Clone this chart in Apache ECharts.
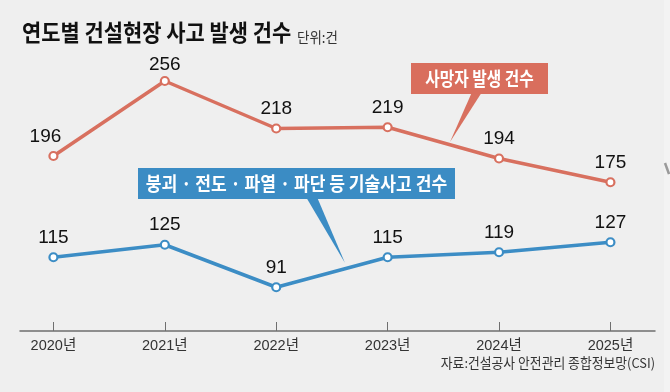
<!DOCTYPE html>
<html>
<head>
<meta charset="utf-8">
<script src="https://cdn.jsdelivr.net/npm/echarts@6/dist/echarts.min.js"></script>
<style>
html,body{margin:0;padding:0;background:#efefef;}
#c{width:670px;height:392px;}
</style>
</head>
<body>
<div id="c"></div>
<script>
const years = ['2020년','2021년','2022년','2023년','2024년','2025년'];
const deaths = [196, 256, 218, 219, 194, 175];
const techAccidents = [115, 125, 91, 115, 119, 127];
const titleText = '연도별 건설현장 사고 발생 건수';
const unitText = '단위:건';
const sourceText = '자료:건설공사 안전관리 종합정보망(CSI)';
const deathsName = '사망자 발생 건수';
const techName = '붕괴 · 전도 · 파열 · 파단 등 기술사고 건수';

const RED = '#d8705f';
const BLUE = '#3c8dc5';
const NUM_FONT = '"Liberation Sans Narrow","Liberation Sans",Arial,sans-serif';
const KR_FONT = '"Noto Sans CJK KR",sans-serif';

function toData(arr, overrides) {
  return arr.map((v, i) => {
    const item = { value: [i, v] };
    if (overrides && overrides[i]) item.label = overrides[i];
    return item;
  });
}

const chart = echarts.init(document.getElementById('c'));
const idx = years.map((_, i) => i);

const seriesBase = (color) => ({
  type: 'line',
  symbol: 'circle',
  symbolSize: 8,
  lineStyle: { width: 3.5, color: color },
  itemStyle: { color: '#ffffff', borderColor: color, borderWidth: 2.2 },
  label: {
    show: true, position: 'top', distance: 5,
    fontFamily: NUM_FONT, fontSize: 19, color: '#111'
  },
  z: 3,
  animation: false
});

chart.setOption({
  backgroundColor: '#efefef',
  animation: false,
  grid: { left: 20, right: 15, top: 81, bottom: 61 },
  xAxis: {
    type: 'value', min: -0.3, max: 5.4,
    splitLine: { show: false },
    axisLine: { show: true, onZero: false, lineStyle: { color: '#6f6f6f', width: 1.5 } },
    axisTick: { show: true, inside: true, length: 9, customValues: idx, lineStyle: { color: '#6f6f6f', width: 1 } },
    axisLabel: {
      customValues: idx,
      formatter: (v) => years[Math.round(v)] || '',
      fontFamily: NUM_FONT + ',' + KR_FONT, fontSize: 14.5, color: '#333', margin: 8
    }
  },
  yAxis: { type: 'value', min: 56, max: 256, show: false, splitLine: { show: false } },
  series: [
    Object.assign(seriesBase(RED), {
      name: deathsName,
      data: toData(deaths, { 0: { offset: [-8, 0] }, 1: { offset: [0, 3] } })
    }),
    Object.assign(seriesBase(BLUE), {
      name: techName,
      data: toData(techAccidents, null)
    })
  ],
  graphic: [
    { type: 'text', x: 22, y: 32, scaleX: 0.91, z: 10,
      style: { text: titleText, fontFamily: KR_FONT, fontWeight: 'bold', fontSize: 23, fill: '#111', textVerticalAlign: 'middle', textAlign: 'left' } },
    { type: 'text', x: 297, y: 37, scaleX: 0.9, z: 10,
      style: { text: unitText, fontFamily: KR_FONT, fontSize: 15, fill: '#333', textVerticalAlign: 'middle', textAlign: 'left' } },
    { type: 'text', x: 655, y: 363, scaleX: 0.95, z: 10,
      style: { text: sourceText, fontFamily: KR_FONT, fontSize: 13.5, fill: '#333', textVerticalAlign: 'middle', textAlign: 'right' } },
    // red callout
    { type: 'polygon', z: 5, shape: { points: [[472, 92], [482, 92], [450, 142]] }, style: { fill: RED } },
    { type: 'rect', z: 6, shape: { x: 411, y: 63, width: 137, height: 31 }, style: { fill: '#d96e5d' } },
    { type: 'text', x: 479.5, y: 78.5, scaleX: 0.83, z: 7,
      style: { text: deathsName, fontFamily: KR_FONT, fontWeight: 'bold', fontSize: 19, fill: '#fff', textAlign: 'center', textVerticalAlign: 'middle' } },
    // blue callout
    { type: 'polygon', z: 5, shape: { points: [[306, 197], [317, 197], [345, 263]] }, style: { fill: BLUE } },
    { type: 'rect', z: 6, shape: { x: 138, y: 168, width: 317, height: 31 }, style: { fill: '#3b8cc4' } },
    { type: 'text', x: 296.5, y: 183.5, scaleX: 0.9, z: 7,
      style: { text: techName, fontFamily: KR_FONT, fontWeight: 'bold', fontSize: 19, fill: '#fff', textAlign: 'center', textVerticalAlign: 'middle' } },
    // right edge artifact
    { type: 'rect', z: 1, shape: { x: 664, y: 0, width: 6, height: 392 }, style: { fill: '#f3f3f3' } },
    { type: 'line', z: 2, shape: { x1: 665, y1: 163, x2: 669, y2: 174 }, style: { stroke: '#9a9a9a', lineWidth: 2.5 } }
  ]
});
</script>
</body>
</html>
